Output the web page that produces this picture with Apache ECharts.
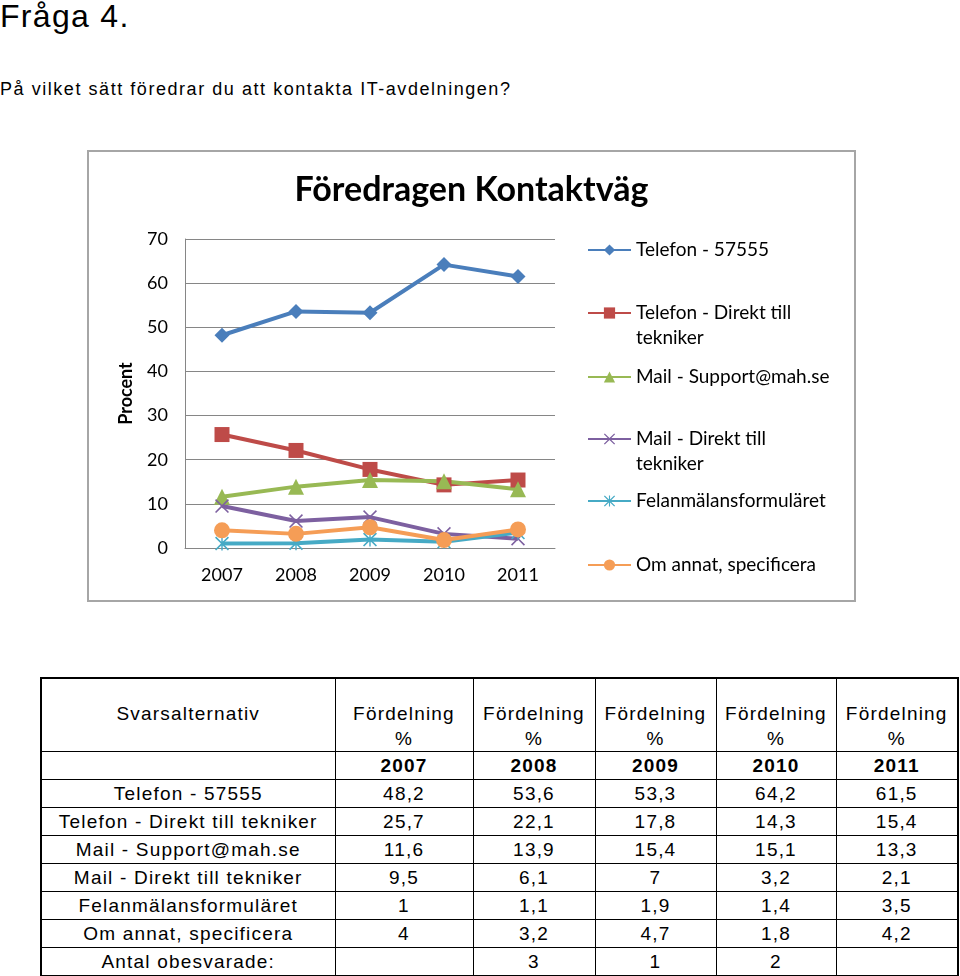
<!DOCTYPE html>
<html>
<head>
<meta charset="utf-8">
<script src="https://cdn.jsdelivr.net/npm/echarts@6/dist/echarts.min.js"></script>
<style>
  html, body { margin: 0; padding: 0; background: #fff; }
  body { width: 960px; height: 976px; position: relative; overflow: hidden; font-family: "Liberation Sans", Arial, sans-serif; color: #000; }
  #h1 { position: absolute; left: 0; top: -4px; font-size: 32px; line-height: 40px; letter-spacing: 1.3px; margin: 0; font-weight: normal; }
  #q { position: absolute; left: 0; top: 78px; font-size: 18px; line-height: 22px; letter-spacing: 1.55px; }
  #chart { position: absolute; left: 87px; top: 150px; width: 765px; height: 448px; border: 2px solid #a6a6a6; }
  #tbl { position: absolute; left: 40px; top: 677px; border-collapse: collapse; font-size: 19px; letter-spacing: 1.2px; table-layout: fixed; border: 2px solid #000; }
  #tbl td { border: 1px solid #000; text-align: center; padding: 0; height: 27px; line-height: 25px; white-space: nowrap; overflow: hidden; }
  #tbl tr.head td { height: 72px; vertical-align: top; padding-top: 22px; box-sizing: border-box; }
  #tbl tr.year td { font-weight: bold; }
</style>
</head>
<body>
<div id="h1">Fråga 4.</div>
<div id="q">På vilket sätt föredrar du att kontakta IT-avdelningen?</div>
<div id="chart"></div>
<table id="tbl"></table>
<script>
// ---- data ----
const years = ['2007', '2008', '2009', '2010', '2011'];
const seriesNames = [
  'Telefon - 57555',
  'Telefon - Direkt till tekniker',
  'Mail - Support@mah.se',
  'Mail - Direkt till tekniker',
  'Felanmälansformuläret',
  'Om annat, specificera'
];
const telefon57555 = [48.2, 53.6, 53.3, 64.2, 61.5];
const telefonDirekt = [25.7, 22.1, 17.8, 14.3, 15.4];
const mailSupport = [11.6, 13.9, 15.4, 15.1, 13.3];
const mailDirekt = [9.5, 6.1, 7, 3.2, 2.1];
const felanmalan = [1, 1.1, 1.9, 1.4, 3.5];
const omAnnat = [4, 3.2, 4.7, 1.8, 4.2];
const obesvarade = ['', '3', '1', '2', ''];
const yTicks = [0, 10, 20, 30, 40, 50, 60, 70];
const chartTitle = 'Föredragen Kontaktväg';
const yName = 'Procent';
const tableHeadFirst = 'Svarsalternativ';
const tableHeadCol = 'Fördelning<br>%';
const obesvaradeLabel = 'Antal obesvarade:';

const allValues = [telefon57555, telefonDirekt, mailSupport, mailDirekt, felanmalan, omAnnat];

// ---- table ----
const colW = [294, 138, 122, 121, 120, 122];
const fmt = v => String(v).replace('.', ',');
let html = '<colgroup>' + colW.map(w => '<col style="width:' + w + 'px">').join('') + '</colgroup>';
html += '<tr class="head"><td>' + tableHeadFirst + '</td>' + years.map(() => '<td>' + tableHeadCol + '</td>').join('') + '</tr>';
html += '<tr class="year"><td></td>' + years.map(y => '<td>' + y + '</td>').join('') + '</tr>';
seriesNames.forEach((n, i) => {
  html += '<tr><td>' + n + '</td>' + allValues[i].map(v => '<td>' + fmt(v) + '</td>').join('') + '</tr>';
});
html += '<tr><td>' + obesvaradeLabel + '</td>' + obesvarade.map(v => '<td>' + v + '</td>').join('') + '</tr>';
document.getElementById('tbl').innerHTML = html;

// ---- chart ----
const colors = ['#4A7EBB', '#BE4B48', '#98B954', '#7D60A0', '#46AAC5', '#F59D56'];
const xPath = 'path://M0 0.8L0.8 0L5 4.2L9.2 0L10 0.8L5.8 5L10 9.2L9.2 10L5 5.8L0.8 10L0 9.2L4.2 5Z';
const starPath = 'path://M0 0.8L0.8 0L4.5 3.7L4.5 0L5.5 0L5.5 3.7L9.2 0L10 0.8L5.8 5L10 9.2L9.2 10L5.5 6.3L5.5 10L4.5 10L4.5 6.3L0.8 10L0 9.2L4.2 5Z';
const symbols = ['diamond', 'rect', 'triangle', xPath, starPath, 'circle'];
const symSizes = [15, 15, 16, 14, 14, 16];
// a leading blank line keeps the legend icon level with the first text line
const legendLabels = [
  'Telefon - 57555',
  ' \nTelefon - Direkt till\ntekniker',
  'Mail - Support@mah.se',
  ' \nMail - Direkt till\ntekniker',
  'Felanmälansformuläret',
  'Om annat, specificera'
];
const legendLineCenters = [98, 161, 225, 287, 349, 413];

const legends = seriesNames.map((n, i) => {
  const threeLine = legendLabels[i].indexOf('\n') >= 0;
  return {
    orient: 'vertical',
    left: 498,
    top: legendLineCenters[i] - (threeLine ? 37.5 : 12.5),
    padding: 0,
    itemWidth: 43,
    itemHeight: 14,
    selectedMode: false,
    formatter: () => legendLabels[i],
    textStyle: {
      fontFamily: 'Lato, "Open Sans", sans-serif',
      fontSize: 19,
      lineHeight: 25,
      color: '#000'
    },
    data: [n]
  };
});

const chart = echarts.init(document.getElementById('chart'), null, { renderer: 'canvas' });
chart.setOption({
  backgroundColor: '#fff',
  animation: false,
  title: {
    text: chartTitle,
    left: 'center',
    top: 19,
    padding: 0,
    textStyle: { fontFamily: 'Lato, "Open Sans", sans-serif', fontSize: 34, fontWeight: 'bold', color: '#000', lineHeight: 38 }
  },
  legend: legends,
  grid: { left: 96, top: 87, width: 370, height: 309 },
  xAxis: {
    type: 'category',
    data: years,
    boundaryGap: true,
    axisLine: { lineStyle: { color: '#868686', width: 1 } },
    axisTick: { show: false },
    axisLabel: { fontFamily: 'Lato, "Open Sans", sans-serif', fontSize: 18, color: '#000', margin: 18 }
  },
  yAxis: {
    type: 'value',
    min: yTicks[0],
    max: yTicks[yTicks.length - 1],
    interval: yTicks[1] - yTicks[0],
    name: yName,
    nameLocation: 'middle',
    nameRotate: 90,
    nameGap: 50,
    nameTextStyle: { fontFamily: 'Lato, "Open Sans", sans-serif', fontSize: 18, fontWeight: 'bold', color: '#000' },
    axisLine: { show: true, lineStyle: { color: '#868686', width: 1 } },
    axisTick: { show: false },
    splitLine: { lineStyle: { color: '#868686', width: 1 } },
    axisLabel: { fontFamily: 'Lato, "Open Sans", sans-serif', fontSize: 18, color: '#000', margin: 17 }
  },
  series: seriesNames.map((n, i) => ({
    name: n,
    type: 'line',
    data: allValues[i],
    symbol: symbols[i],
    symbolSize: symSizes[i],
    showAllSymbol: true,
    color: colors[i],
    lineStyle: { width: 4, color: colors[i] },
    itemStyle: { color: colors[i] }
  }))
});
</script>
</body>
</html>
